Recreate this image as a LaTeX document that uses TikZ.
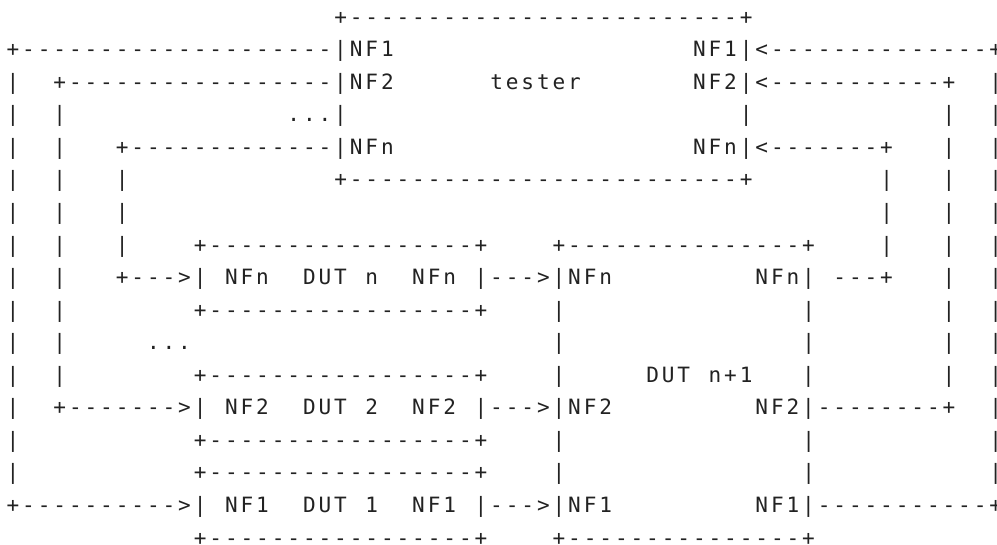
\documentclass[tikz,border=0pt]{standalone}
\usepackage{fontspec}
\newfontfamily\asciifont{DejaVu Sans Mono}
\definecolor{inkgray}{HTML}{222222}
\ExplSyntaxOn
\dim_new:N \l_ascii_cell_dim
\dim_set:Nn \l_ascii_cell_dim {11.7pt}
\cs_new:Npn \rpt #1#2 { \prg_replicate:nn {#1} {#2} }
\cs_new_protected:Npn \ascii_row:n #1
  {
    \str_map_inline:nn {#1}
      {
        \str_if_eq:nnTF {##1} {_}
          { \hbox_to_wd:nn { \l_ascii_cell_dim } { } }
          { \hbox_to_wd:nn { \l_ascii_cell_dim } { \hss ##1 \hss } }
      }
  }
\cs_generate_variant:Nn \ascii_row:n { e }
\NewDocumentCommand \asciirow { m } { \hbox:n { \ascii_row:e {#1} } }
\ExplSyntaxOff
\tikzset{
  asciiline/.style={anchor=base west, inner sep=0pt, outer sep=0pt,
    font=\asciifont\fontsize{15.8pt}{16pt}\selectfont, text=inkgray}
}
\begin{document}
\begin{tikzpicture}[x=0.75pt,y=-0.75pt]
\fill[white] (0,0) rectangle (997,544);
\useasboundingbox (0,0) rectangle (997,544);
\node[asciiline] (r1)  at (5.2,24.2)   {\asciirow{\rpt{21}{_}+\rpt{25}{-}+}};
\node[asciiline] (r2)  at (5.2,56.75)  {\asciirow{+\rpt{20}{-}|NF1\rpt{19}{_}NF1|<\rpt{14}{-}+}};
\node[asciiline] (r3)  at (5.2,89.3)   {\asciirow{|__+\rpt{17}{-}|NF2\rpt{6}{_}tester\rpt{7}{_}NF2|<\rpt{11}{-}+__|}};
\node[asciiline] (r4)  at (5.2,121.85) {\asciirow{|__|\rpt{14}{_}...|\rpt{25}{_}|\rpt{12}{_}|__|}};
\node[asciiline] (r5)  at (5.2,154.4)  {\asciirow{|__|___+\rpt{13}{-}|NFn\rpt{19}{_}NFn|<\rpt{7}{-}+___|__|}};
\node[asciiline] (r6)  at (5.2,186.95) {\asciirow{|__|___|\rpt{13}{_}+\rpt{25}{-}+\rpt{8}{_}|___|__|}};
\node[asciiline] (r7)  at (5.2,219.5)  {\asciirow{|__|___|\rpt{48}{_}|___|__|}};
\node[asciiline] (r8)  at (5.2,252.05) {\asciirow{|__|___|____+\rpt{17}{-}+____+\rpt{15}{-}+____|___|__|}};
\node[asciiline] (r9)  at (5.2,284.6)  {\asciirow{|__|___+--->|_NFn__DUT_n__NFn_|--->|NFn\rpt{9}{_}NFn|_---+___|__|}};
\node[asciiline] (r10) at (5.2,317.15) {\asciirow{|__|\rpt{8}{_}+\rpt{17}{-}+____|\rpt{15}{_}|\rpt{8}{_}|__|}};
\node[asciiline] (r11) at (5.2,349.7)  {\asciirow{|__|_____...\rpt{23}{_}|\rpt{15}{_}|\rpt{8}{_}|__|}};
\node[asciiline] (r12) at (5.2,382.25) {\asciirow{|__|\rpt{8}{_}+\rpt{17}{-}+____|_____DUT_n+1___|\rpt{8}{_}|__|}};
\node[asciiline] (r13) at (5.2,414.8)  {\asciirow{|__+\rpt{7}{-}>|_NF2__DUT_2__NF2_|--->|NF2\rpt{9}{_}NF2|\rpt{8}{-}+__|}};
\node[asciiline] (r14) at (5.2,447.35) {\asciirow{|\rpt{11}{_}+\rpt{17}{-}+____|\rpt{15}{_}|\rpt{11}{_}|}};
\node[asciiline] (r15) at (5.2,479.9)  {\asciirow{|\rpt{11}{_}+\rpt{17}{-}+____|\rpt{15}{_}|\rpt{11}{_}|}};
\node[asciiline] (r16) at (5.2,512.45) {\asciirow{+\rpt{10}{-}>|_NF1__DUT_1__NF1_|--->|NF1\rpt{9}{_}NF1|\rpt{11}{-}+}};
\node[asciiline] (r17) at (5.2,545.0)  {\asciirow{\rpt{12}{_}+\rpt{17}{-}+____+\rpt{15}{-}+}};
\end{tikzpicture}
\end{document}
